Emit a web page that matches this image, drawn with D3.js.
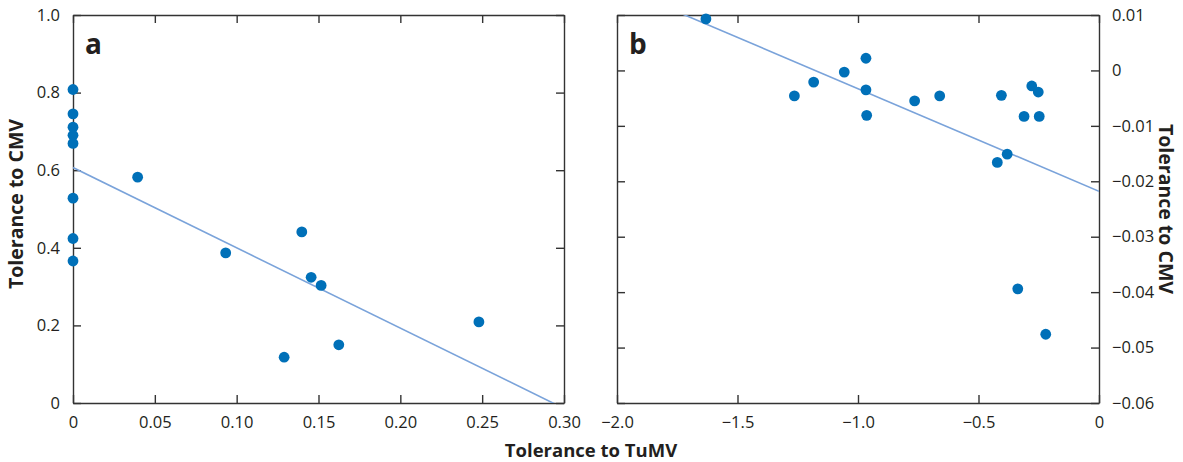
<!DOCTYPE html>
<html>
<head>
<meta charset="utf-8">
<script src="https://cdn.jsdelivr.net/npm/d3@7"></script>
<style>
  body { margin: 0; background: #fff; }
  text { font-family: "Open Sans", "Noto Sans", sans-serif; fill: #231f20; }
</style>
</head>
<body>
<div id="chart"></div>
<script>
// panel a: tolerance to TuMV (x) vs tolerance to CMV (y)
var aTuMV = [0, 0, 0, 0, 0, 0, 0, 0, 0.0395, 0.0933, 0.129, 0.1398, 0.1455, 0.1516, 0.1624, 0.248]
var aCMV  = [0.808, 0.745, 0.711, 0.690, 0.669, 0.528, 0.424, 0.366, 0.582, 0.387, 0.118, 0.441, 0.324, 0.303, 0.150, 0.209]
var aFit = [0.607, -2.07]   // intercept, slope
var aXTicks = [0, 0.05, 0.10, 0.15, 0.20, 0.25, 0.30]
var aXLabels = ["0", "0.05", "0.10", "0.15", "0.20", "0.25", "0.30"]
var aYTicks = [0, 0.2, 0.4, 0.6, 0.8, 1.0]
var aYLabels = ["0", "0.2", "0.4", "0.6", "0.8", "1.0"]

// panel b
var bTuMV = [-1.631, -0.967, -1.057, -1.184, -1.264, -0.967, -0.964, -0.765, -0.661, -0.405, -0.279, -0.252, -0.311, -0.248, -0.381, -0.422, -0.337, -0.221]
var bCMV  = [0.0093, 0.0022, -0.0003, -0.0021, -0.0046, -0.0035, -0.0081, -0.0055, -0.0046, -0.0045, -0.0028, -0.0039, -0.0083, -0.0083, -0.0151, -0.0166, -0.0394, -0.0476]
var bFit = [-0.0218, -0.0185]
var bXTicks = [-2, -1.5, -1, -0.5, 0]
var bXLabels = ["\u22122.0", "\u22121.5", "\u22121.0", "\u22120.5", "0"]
var bYTicks = [0.01, 0, -0.01, -0.02, -0.03, -0.04, -0.05, -0.06]
var bYLabels = ["0.01", "0", "\u22120.01", "\u22120.02", "\u22120.03", "\u22120.04", "\u22120.05", "\u22120.06"]

var width = 1183, height = 462
var dotColor = "#0070b8", lineColor = "#7aa3da", axisColor = "#333"

var svg = d3.select("#chart").append("svg")
    .attr("width", width)
    .attr("height", height)

function panel(opt) {
    var x = d3.scaleLinear().domain(opt.xDomain).range([opt.left, opt.right])
    var y = d3.scaleLinear().domain(opt.yDomain).range([opt.bottom, opt.top])
    var g = svg.append("g")

    var clipId = "clip-" + opt.name
    g.append("clipPath").attr("id", clipId)
        .append("rect")
        .attr("x", opt.left).attr("y", opt.top)
        .attr("width", opt.right - opt.left).attr("height", opt.bottom - opt.top)

    // inward ticks on all four sides, labels on the chosen side
    var bottomAxis = d3.axisBottom(x).tickValues(opt.xTicks).tickSizeInner(-8).tickSizeOuter(0)
        .tickFormat(function(d, i) { return opt.xLabels[i] }).tickPadding(13)
    var topAxis = d3.axisTop(x).tickValues(opt.xTicks).tickSizeInner(-8).tickSizeOuter(0).tickFormat("")
    var leftAxis = d3.axisLeft(y).tickValues(opt.yTicks).tickSizeInner(-8).tickSizeOuter(0)
    var rightAxis = d3.axisRight(y).tickValues(opt.yTicks).tickSizeInner(-8).tickSizeOuter(0)
    if (opt.labelSide == "left") {
        leftAxis.tickFormat(function(d, i) { return opt.yLabels[i] }).tickPadding(13)
        rightAxis.tickFormat("")
    } else {
        rightAxis.tickFormat(function(d, i) { return opt.yLabels[i] }).tickPadding(13)
        leftAxis.tickFormat("")
    }

    var axes = [
        g.append("g").attr("transform", "translate(0," + opt.bottom + ")").call(bottomAxis),
        g.append("g").attr("transform", "translate(0," + opt.top + ")").call(topAxis),
        g.append("g").attr("transform", "translate(" + opt.left + ",0)").call(leftAxis),
        g.append("g").attr("transform", "translate(" + opt.right + ",0)").call(rightAxis)
    ]
    axes.forEach(function(a) {
        a.selectAll("path, line").attr("stroke", axisColor).attr("stroke-width", 1.4)
        a.selectAll("text").style("font-size", "16.5px").attr("fill", "#231f20")
    })

    // fit line
    var lx = opt.xDomain
    g.append("line")
        .attr("clip-path", "url(#" + clipId + ")")
        .attr("x1", x(lx[0])).attr("y1", y(opt.fit[0] + opt.fit[1] * lx[0]))
        .attr("x2", x(lx[1])).attr("y2", y(opt.fit[0] + opt.fit[1] * lx[1]))
        .attr("stroke", lineColor)
        .attr("stroke-width", 1.6)

    g.selectAll(".dot")
        .data(opt.xs.map(function(v, i) { return [v, opt.ys[i]] }))
        .enter().append("circle")
        .attr("class", "dot")
        .attr("cx", function(d) { return x(d[0]) })
        .attr("cy", function(d) { return y(d[1]) })
        .attr("r", 5.4)
        .attr("fill", dotColor)

    g.append("text")
        .attr("x", opt.left + 12).attr("y", opt.top + 39)
        .style("font-size", "28px").style("font-weight", "bold")
        .text(opt.name)
}

panel({
    name: "a", left: 73, right: 564, top: 15, bottom: 403,
    xDomain: [0, 0.30], yDomain: [0, 1.0],
    xTicks: aXTicks, xLabels: aXLabels, yTicks: aYTicks, yLabels: aYLabels,
    xs: aTuMV, ys: aCMV, fit: aFit, labelSide: "left"
})

panel({
    name: "b", left: 617, right: 1099, top: 15, bottom: 403,
    xDomain: [-2, 0], yDomain: [-0.06, 0.01],
    xTicks: bXTicks, xLabels: bXLabels, yTicks: bYTicks, yLabels: bYLabels,
    xs: bTuMV, ys: bCMV, fit: bFit, labelSide: "right"
})

svg.append("text")
    .attr("x", 591).attr("y", 457)
    .attr("text-anchor", "middle")
    .style("font-size", "18.5px").style("font-weight", "bold")
    .text("Tolerance to TuMV")

svg.append("text")
    .attr("transform", "translate(23,204) rotate(-90)")
    .attr("text-anchor", "middle")
    .style("font-size", "19.5px").style("font-weight", "bold")
    .text("Tolerance to CMV")

svg.append("text")
    .attr("transform", "translate(1159,209) rotate(90)")
    .attr("text-anchor", "middle")
    .style("font-size", "19.5px").style("font-weight", "bold")
    .text("Tolerance to CMV")
</script>
</body>
</html>
